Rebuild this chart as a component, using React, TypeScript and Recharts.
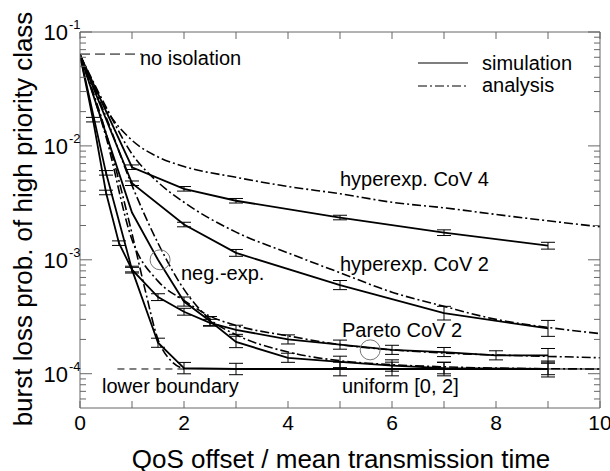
import React from 'react'
import {
  LineChart,
  Line,
  XAxis,
  YAxis,
  ErrorBar,
  ReferenceLine,
  ReferenceDot,
  Customized
} from 'recharts'

const FONT = '"Liberation Sans", Arial, Helvetica, sans-serif'
const FRAME = '#666'

// axis ticks
const xTicks = [0, 1, 2, 3, 4, 5, 6, 7, 8, 9, 10]
const xLabelTicks = [0, 2, 4, 6, 8, 10]
const yTicks = [
  6e-5, 7e-5, 8e-5, 9e-5,
  1e-4, 2e-4, 3e-4, 4e-4, 5e-4, 6e-4, 7e-4, 8e-4, 9e-4,
  1e-3, 2e-3, 3e-3, 4e-3, 5e-3, 6e-3, 7e-3, 8e-3, 9e-3,
  1e-2, 2e-2, 3e-2, 4e-2, 5e-2, 6e-2, 7e-2, 8e-2, 9e-2,
  1e-1
]

// simulation (error bar half height in decades, 0 = no bar)
const cov4SimX = [0, 1, 2, 3, 5, 7, 9]
const cov4SimY = [6.3e-2, 6.5e-3, 4.2e-3, 3.3e-3, 2.35e-3, 1.73e-3, 1.33e-3]
const cov4SimErr = [0, 0.02, 0.02, 0.02, 0.02, 0.025, 0.03]

const cov2SimX = [0, 1, 2, 3, 5, 7, 9]
const cov2SimY = [6.3e-2, 4.7e-3, 2.04e-3, 1.15e-3, 6e-4, 3.4e-4, 2.5e-4]
const cov2SimErr = [0, 0.02, 0.02, 0.03, 0.04, 0.06, 0.07]

const negSimX = [0, 1, 1.5, 2, 2.5, 3, 4, 5, 6, 7, 9]
const negSimY = [6.3e-2, 2.6e-3, 1e-3, 4.3e-4, 2.9e-4, 1.9e-4, 1.38e-4, 1.27e-4, 1.18e-4, 1.12e-4, 1.1e-4]
const negSimErr = [0, 0, 0, 0.04, 0.04, 0.05, 0.04, 0.05, 0.05, 0.05, 0.05]

const paretoSimX = [0, 0.25, 0.5, 0.75, 1, 1.5, 2, 2.5, 3, 4, 5, 6, 7, 8, 9]
const paretoSimY = [6.3e-2, 1.7e-2, 3.9e-3, 1.4e-3, 8.2e-4, 4.7e-4, 3.5e-4, 2.8e-4, 2.43e-4, 2e-4, 1.8e-4, 1.62e-4, 1.55e-4, 1.45e-4, 1.45e-4]
const paretoSimErr = [0, 0.02, 0.02, 0.02, 0.02, 0.03, 0.03, 0.03, 0.04, 0.04, 0.04, 0.04, 0.04, 0.04, 0.06]

const uniSimX = [0, 0.5, 1, 1.5, 2, 3, 5, 6, 7, 9]
const uniSimY = [6.3e-2, 5.8e-3, 8.2e-4, 1.87e-4, 1.12e-4, 1.1e-4, 1.1e-4, 1.1e-4, 1.1e-4, 1.1e-4]
const uniSimErr = [0, 0.02, 0.03, 0.04, 0.05, 0.05, 0.06, 0.06, 0.06, 0.07]

// analysis
const cov4AnaX = [0, 0.5, 1, 1.5, 2, 3, 4, 5, 6, 7, 8, 9, 10]
const cov4AnaY = [6.3e-2, 2.1e-2, 1.12e-2, 8e-3, 6.6e-3, 5.3e-3, 4.4e-3, 3.8e-3, 3.2e-3, 2.86e-3, 2.5e-3, 2.2e-3, 1.95e-3]

const cov2AnaX = [0, 0.5, 1, 1.5, 2, 3, 4, 5, 6, 7, 8, 9, 10]
const cov2AnaY = [6.3e-2, 2.2e-2, 8.5e-3, 4.8e-3, 3.2e-3, 1.75e-3, 1.15e-3, 7.7e-4, 5.2e-4, 3.9e-4, 3e-4, 2.55e-4, 2.25e-4]

const negAnaX = [0, 0.5, 1, 1.5, 2, 2.5, 3, 4, 5, 6, 7, 8, 10]
const negAnaY = [6.3e-2, 1.8e-2, 4.5e-3, 1.4e-3, 5.5e-4, 3e-4, 2.2e-4, 1.55e-4, 1.3e-4, 1.2e-4, 1.15e-4, 1.12e-4, 1.1e-4]

const paretoAnaX = [0, 0.5, 1, 1.5, 2, 2.5, 3, 4, 5, 6, 7, 8, 9, 10]
const paretoAnaY = [6.3e-2, 1.2e-2, 1.5e-3, 6.5e-4, 4.4e-4, 3.2e-4, 2.65e-4, 2.15e-4, 1.8e-4, 1.62e-4, 1.52e-4, 1.46e-4, 1.42e-4, 1.38e-4]

const uniAnaX = [0, 0.5, 1, 1.25, 1.5, 1.75, 2]
const uniAnaY = [6.3e-2, 1.3e-2, 1.7e-3, 5.5e-4, 2e-4, 1.3e-4, 1.1e-4]

const noIsolation = 6.4e-2
const lowerBoundary = 1.1e-4

const rows = (xs: number[], ys: number[], errs?: number[]) =>
  xs.map((x, i) => {
    const y = ys[i]
    const e = errs ? errs[i] : 0
    return { x, y, err: e ? [y - y / Math.pow(10, e), y * Math.pow(10, e) - y] : undefined }
  })

const simSeries = [
  rows(cov4SimX, cov4SimY, cov4SimErr),
  rows(cov2SimX, cov2SimY, cov2SimErr),
  rows(negSimX, negSimY, negSimErr),
  rows(paretoSimX, paretoSimY, paretoSimErr),
  rows(uniSimX, uniSimY, uniSimErr)
]

const anaSeries = [
  rows(cov4AnaX, cov4AnaY),
  rows(cov2AnaX, cov2AnaY),
  rows(negAnaX, negAnaY),
  rows(paretoAnaX, paretoAnaY),
  rows(uniAnaX, uniAnaY)
]

const DASHDOT = '9 3 2 3'

const BottomTick = (props: any) => {
  const { x, y, payload } = props
  const v = payload.value
  return (
    <g>
      <line x1={x} y1={y} x2={x} y2={y - 7} stroke={FRAME} />
      {xLabelTicks.includes(v) && (
        <text x={x} y={y + 22} textAnchor="middle" fontSize={21} fill="#000" fontFamily={FONT}>
          {v}
        </text>
      )}
    </g>
  )
}

const TopTick = (props: any) => {
  const { x, y } = props
  return <line x1={x} y1={y} x2={x} y2={y + 7} stroke={FRAME} />
}

const isMajor = (v: number) => {
  const e = Math.log10(v)
  return Math.abs(e - Math.round(e)) < 1e-6
}

const LeftTick = (props: any) => {
  const { x, y, payload } = props
  const v = payload.value
  const major = isMajor(v)
  return (
    <g>
      <line x1={x} y1={y} x2={x + (major ? 12 : 6)} y2={y} stroke={FRAME} />
      {major && (
        <g fontFamily={FONT} fill="#000">
          <text x={x - 12} y={y + 8} textAnchor="end" fontSize={22}>10</text>
          <text x={x - 11} y={y - 3} textAnchor="start" fontSize={13}>
            {String(Math.round(Math.log10(v)))}
          </text>
        </g>
      )}
    </g>
  )
}

const RightTick = (props: any) => {
  const { x, y, payload } = props
  const major = isMajor(payload.value)
  return <line x1={x} y1={y} x2={x - (major ? 12 : 6)} y2={y} stroke={FRAME} />
}

const Overlay = () => (
  <g fontFamily={FONT} fill="#000">
    <text x={32} y={219} transform="rotate(-90 32 219)" textAnchor="middle" fontSize={26}>
      burst loss prob. of high priority class
    </text>
    <text x={341} y={468} textAnchor="middle" fontSize={26}>
      QoS offset / mean transmission time
    </text>
    <line x1={418} y1={63} x2={468} y2={63} stroke="#000" strokeWidth={1.2} />
    <text x={482} y={70} fontSize={20}>simulation</text>
    <line x1={418} y1={86} x2={468} y2={86} stroke="#000" strokeWidth={1.2} strokeDasharray={DASHDOT} />
    <text x={482} y={92} fontSize={20}>analysis</text>
    <text x={140} y={65} fontSize={20}>no isolation</text>
    <text x={340} y={186} fontSize={20}>hyperexp. CoV 4</text>
    <text x={340} y={271} fontSize={20}>hyperexp. CoV 2</text>
    <text x={181} y={280} fontSize={20}>neg.-exp.</text>
    <text x={342} y={337} fontSize={20}>Pareto CoV 2</text>
    <text x={342} y={393} fontSize={20}>uniform [0, 2]</text>
    <text x={102} y={393} fontSize={20}>lower boundary</text>
  </g>
)

export default function App() {
  return (
    <div style={{ position: 'absolute', left: 0, top: 0, width: 610, height: 471, background: '#fff', fontFamily: FONT }}>
      <LineChart width={610} height={471} margin={{ top: 31, right: 9, bottom: 0, left: 0 }}>
        <XAxis
          dataKey="x"
          type="number"
          domain={[0, 10]}
          ticks={xTicks}
          interval={0}
          allowDataOverflow
          height={63}
          tickLine={false}
          tickSize={0}
          tickMargin={0}
          tick={<BottomTick />}
          axisLine={{ stroke: FRAME }}
        />
        <XAxis
          xAxisId="top"
          orientation="top"
          dataKey="x"
          type="number"
          domain={[0, 10]}
          ticks={xTicks}
          interval={0}
          allowDataOverflow
          height={1}
          tickLine={false}
          tickSize={0}
          tickMargin={0}
          tick={<TopTick />}
          axisLine={{ stroke: FRAME }}
        />
        <YAxis
          type="number"
          scale="log"
          domain={[5e-5, 0.1]}
          ticks={yTicks}
          interval={0}
          allowDataOverflow
          width={80}
          tickLine={false}
          tickSize={0}
          tickMargin={0}
          tick={<LeftTick />}
          axisLine={{ stroke: FRAME }}
        />
        <YAxis
          yAxisId="right"
          orientation="right"
          type="number"
          scale="log"
          domain={[5e-5, 0.1]}
          ticks={yTicks}
          interval={0}
          allowDataOverflow
          width={1}
          tickLine={false}
          tickSize={0}
          tickMargin={0}
          tick={<RightTick />}
          axisLine={{ stroke: FRAME }}
        />

        <ReferenceLine
          segment={[{ x: 0, y: noIsolation }, { x: 1.2, y: noIsolation }]}
          stroke="#000"
          strokeDasharray="10 5"
        />
        <ReferenceLine
          segment={[{ x: 0.72, y: lowerBoundary }, { x: 2, y: lowerBoundary }]}
          stroke="#000"
          strokeDasharray="7 5"
        />
        <ReferenceLine
          segment={[{ x: 2, y: lowerBoundary }, { x: 10, y: lowerBoundary }]}
          stroke="#000"
        />

        {anaSeries.map((d, i) => (
          <Line
            key={'ana' + i}
            data={d}
            dataKey="y"
            type="monotone"
            stroke="#000"
            strokeWidth={1.6}
            strokeDasharray={DASHDOT}
            dot={false}
            activeDot={false}
            isAnimationActive={false}
          />
        ))}
        {simSeries.map((d, i) => (
          <Line
            key={'sim' + i}
            data={d}
            dataKey="y"
            type="linear"
            stroke="#000"
            strokeWidth={1.8}
            dot={false}
            activeDot={false}
            isAnimationActive={false}
          >
            <ErrorBar dataKey="err" direction="y" width={7} stroke="#000" strokeWidth={1} isAnimationActive={false} />
          </Line>
        ))}

        <ReferenceDot x={1.54} y={1e-3} r={10} fill="none" stroke="#777" strokeWidth={1} />
        <ReferenceDot x={5.58} y={1.62e-4} r={10} fill="none" stroke="#777" strokeWidth={1} />

        <Customized component={Overlay} />
      </LineChart>
    </div>
  )
}
